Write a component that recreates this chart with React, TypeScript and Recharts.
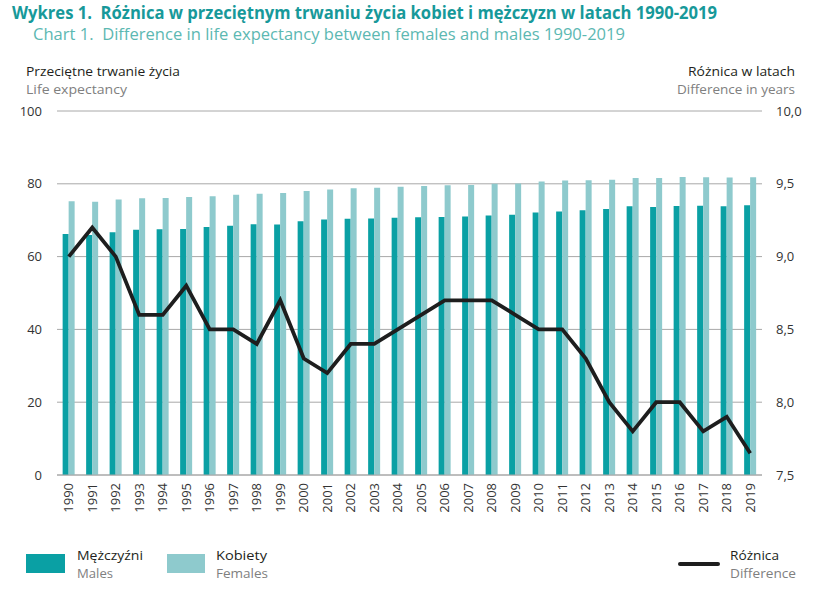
import {
  Bar,
  CartesianGrid,
  ComposedChart,
  Line,
  XAxis,
  YAxis,
} from "recharts";

const YEARS = [
  "1990", "1991", "1992", "1993", "1994", "1995", "1996", "1997", "1998", "1999",
  "2000", "2001", "2002", "2003", "2004", "2005", "2006", "2007", "2008", "2009",
  "2010", "2011", "2012", "2013", "2014", "2015", "2016", "2017", "2018", "2019",
];

const MALES = [
  66.2, 65.9, 66.7, 67.4, 67.5, 67.6, 68.1, 68.5, 68.9, 68.8,
  69.7, 70.2, 70.4, 70.5, 70.7, 70.8, 70.9, 71.0, 71.3, 71.5,
  72.1, 72.4, 72.7, 73.1, 73.8, 73.6, 73.9, 74.0, 73.8, 74.1,
];

const FEMALES = [
  75.2, 75.1, 75.7, 76.0, 76.1, 76.4, 76.6, 77.0, 77.3, 77.5,
  78.0, 78.4, 78.8, 78.9, 79.2, 79.4, 79.6, 79.7, 80.0, 80.1,
  80.6, 80.9, 81.0, 81.1, 81.6, 81.6, 81.9, 81.8, 81.7, 81.8,
];

const DIFFERENCE = [
  9.0, 9.2, 9.0, 8.6, 8.6, 8.8, 8.5, 8.5, 8.4, 8.7,
  8.3, 8.2, 8.4, 8.4, 8.5, 8.6, 8.7, 8.7, 8.7, 8.6,
  8.5, 8.5, 8.3, 8.0, 7.8, 8.0, 8.0, 7.8, 7.9, 7.65,
];

const LEFT_TICKS = [0, 20, 40, 60, 80, 100];
const RIGHT_TICKS = [7.5, 8, 8.5, 9, 9.5, 10];

const MALE_COLOR = "#0aa0a4";
const FEMALE_COLOR = "#8ecacd";
const LINE_COLOR = "#1e1e1e";
const GRID_COLOR = "#a8a8a8";
const FONT = "'Open Sans', sans-serif";

const data = YEARS.map((year, i) => ({
  year,
  males: MALES[i],
  females: FEMALES[i],
  diff: DIFFERENCE[i],
}));

// rotated year labels under the axis
function YearTick({ x, payload }: any) {
  const y = 483;
  return (
    <text
      x={x}
      y={y}
      dy="0.36em"
      transform={`rotate(-90 ${x} ${y})`}
      textAnchor="end"
      fontFamily={FONT}
      fontSize={13}
      fill="#333"
    >
      {payload.value}
    </text>
  );
}

// fixed-width text, the original uses a condensed face
function Label(props: any) {
  const { children, len, ...rest } = props;
  return (
    <text
      fontFamily={FONT}
      textLength={len}
      lengthAdjust="spacingAndGlyphs"
      style={{ whiteSpace: "pre" }}
      {...rest}
    >
      {children}
    </text>
  );
}

export default function App() {
  return (
    <div
      style={{
        position: "absolute",
        left: 0,
        top: 0,
        width: 830,
        height: 604,
        background: "#fff",
      }}
    >
      <ComposedChart
        width={830}
        height={520}
        data={data}
        margin={{ top: 111, right: 28, bottom: 5, left: 12 }}
        barCategoryGap="24%"
        barGap={0}
      >
        <CartesianGrid vertical={false} stroke={GRID_COLOR} yAxisId="left" />
        <XAxis
          dataKey="year"
          interval={0}
          tickLine={false}
          axisLine={{ stroke: GRID_COLOR }}
          height={40}
          tick={<YearTick />}
        />
        <YAxis
          yAxisId="left"
          width={45}
          domain={[0, 100]}
          ticks={LEFT_TICKS}
          axisLine={false}
          tickLine={false}
          tickMargin={9}
          tick={{ fontFamily: FONT, fontSize: 13, fill: "#333" }}
        />
        <YAxis
          yAxisId="right"
          orientation="right"
          width={40}
          domain={[7.5, 10]}
          ticks={RIGHT_TICKS}
          axisLine={false}
          tickLine={false}
          tickMargin={8}
          tickFormatter={(v: number) => v.toFixed(1).replace(".", ",")}
          tick={{ fontFamily: FONT, fontSize: 13, fill: "#333", textAnchor: "start" }}
        />
        <Bar yAxisId="left" dataKey="males" fill={MALE_COLOR} isAnimationActive={false} />
        <Bar yAxisId="left" dataKey="females" fill={FEMALE_COLOR} isAnimationActive={false} />
        <Line
          yAxisId="right"
          dataKey="diff"
          type="linear"
          stroke={LINE_COLOR}
          strokeWidth={3.8}
          dot={false}
          strokeLinejoin="miter"
          isAnimationActive={false}
        />
      </ComposedChart>

      <svg
        width={830}
        height={604}
        style={{ position: "absolute", left: 0, top: 0, pointerEvents: "none" }}
      >
        <Label x={12} y={19} len={705} fontSize={18} fontWeight="bold" fill="#17999a">
          {"Wykres 1.  Różnica w przeciętnym trwaniu życia kobiet i mężczyzn w latach 1990-2019"}
        </Label>
        <Label x={33} y={40} len={592} fontSize={16.5} fill="#5cb8b2">
          {"Chart 1.  Difference in life expectancy between females and males 1990-2019"}
        </Label>

        <Label x={26} y={76} len={154} fontSize={13} fill="#231f20">
          Przeciętne trwanie życia
        </Label>
        <Label x={26} y={94} len={101} fontSize={13} fill="#808080">
          Life expectancy
        </Label>
        <Label x={795} y={76} len={107} fontSize={13} fill="#231f20" textAnchor="end">
          Różnica w latach
        </Label>
        <Label x={795} y={94} len={118} fontSize={13} fill="#808080" textAnchor="end">
          Difference in years
        </Label>

        <rect x={26} y={554} width={39} height={19} fill={MALE_COLOR} />
        <Label x={77} y={560} len={66} fontSize={13} fill="#231f20">
          Mężczyźni
        </Label>
        <Label x={77} y={578} len={36} fontSize={13} fill="#808080">
          Males
        </Label>

        <rect x={167} y={554} width={38} height={19} fill={FEMALE_COLOR} />
        <Label x={216} y={560} len={51} fontSize={13} fill="#231f20">
          Kobiety
        </Label>
        <Label x={216} y={578} len={52} fontSize={13} fill="#808080">
          Females
        </Label>

        <line
          x1={680}
          y1={564}
          x2={718}
          y2={564}
          stroke={LINE_COLOR}
          strokeWidth={4}
          strokeLinecap="round"
        />
        <Label x={730} y={560} len={49} fontSize={13} fill="#231f20">
          Różnica
        </Label>
        <Label x={730} y={578} len={66} fontSize={13} fill="#808080">
          Difference
        </Label>
      </svg>
    </div>
  );
}
